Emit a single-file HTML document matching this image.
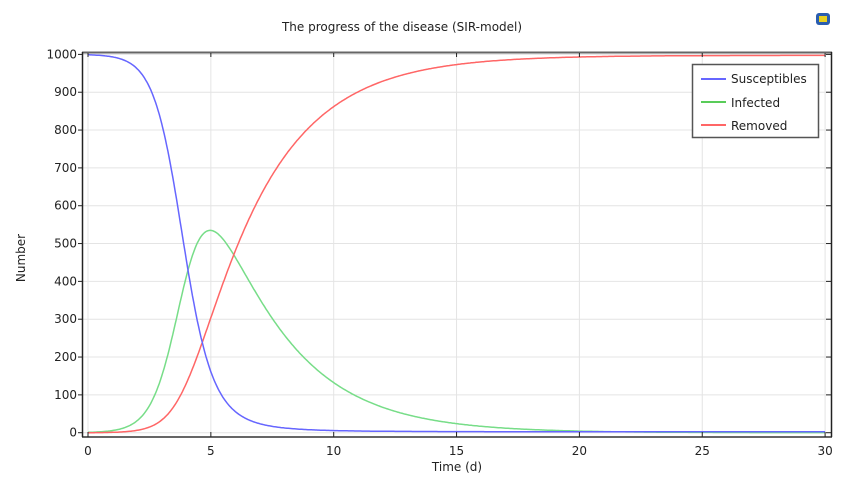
<!DOCTYPE html>
<html><head><meta charset="utf-8"><style>
html,body{margin:0;padding:0;background:#fff;width:862px;height:477px;overflow:hidden}
svg text{font-family:"DejaVu Sans","Liberation Sans",sans-serif;font-size:12px;fill:#222}
</style></head><body>
<svg id="s" width="862" height="477" xmlns="http://www.w3.org/2000/svg">
<text x="402" y="31" text-anchor="middle">The progress of the disease (SIR-model)</text>
<g id="grid" stroke="#e4e4e4" stroke-width="1"></g>
<g id="curves" fill="none" stroke-width="1.5"></g>
<line x1="82" y1="52.5" x2="832" y2="52.5" stroke="#666" stroke-width="2"/>
<line x1="82" y1="437" x2="832" y2="437" stroke="#666" stroke-width="2"/>
<line x1="82.5" y1="52" x2="82.5" y2="437" stroke="#222" stroke-width="1.5"/>
<line x1="831.5" y1="52" x2="831.5" y2="437" stroke="#222" stroke-width="1.5"/>
<g id="ticks" stroke="#222" stroke-width="1"></g>
<g id="labels"></g>
<text x="457" y="471" text-anchor="middle">Time (d)</text>
<text transform="translate(25,258) rotate(-90)" text-anchor="middle">Number</text>
<rect x="692.5" y="64.5" width="126" height="73" fill="#fff" stroke="#555" stroke-width="1.5"/>
<line x1="701" y1="79" x2="726" y2="79" stroke="#3333ff" stroke-width="1.5"/>
<line x1="701" y1="102" x2="726" y2="102" stroke="#22bb22" stroke-width="1.5"/>
<line x1="701" y1="125" x2="726" y2="125" stroke="#ff3333" stroke-width="1.5"/>
<text x="731" y="83">Susceptibles</text>
<text x="731" y="107">Infected</text>
<text x="731" y="130">Removed</text>
<rect x="816" y="13" width="14" height="12" rx="3" fill="#2a5db0"/>
<rect x="819" y="16" width="8" height="6" fill="#e8d020"/>
</svg>
<script>
var X=function(t){return 88+t*24.57},Y=function(v){return 432.7-v*0.3783};
var ns="http://www.w3.org/2000/svg",g=document.getElementById('grid'),tk=document.getElementById('ticks'),lb=document.getElementById('labels');
function el(p,n,a,txt){var e=document.createElementNS(ns,n);for(var k in a)e.setAttribute(k,a[k]);if(txt!=null)e.textContent=txt;p.appendChild(e);return e}
for(var v=0;v<=1000;v+=100){var y=Y(v);el(g,'line',{x1:83,x2:831,y1:y,y2:y});el(tk,'line',{x1:78,x2:83,y1:y,y2:y});el(tk,'line',{x1:826,x2:831,y1:y,y2:y});el(lb,'text',{x:77,y:y+4,'text-anchor':'end'},v)}
for(var t=0;t<=30;t+=5){var x=X(t);el(g,'line',{x1:x,x2:x,y1:53,y2:436});el(tk,'line',{x1:x,x2:x,y1:432,y2:437});el(tk,'line',{x1:x,x2:x,y1:53,y2:57});el(lb,'text',{x:x,y:455,'text-anchor':'middle'},t)}
var b=2.1/1000,gm=0.35,S=999,I=1,R=0,h=0.01,ps=[],pi=[],pr=[];
function f(s,i){return [-b*s*i,b*s*i-gm*i,gm*i]}
for(var n=0;n<=3000;n++){var t=n*h;if(n%5==0){ps.push(X(t).toFixed(1)+','+Y(S).toFixed(1));pi.push(X(t).toFixed(1)+','+Y(I).toFixed(1));pr.push(X(t).toFixed(1)+','+Y(R).toFixed(1));}
var k1=f(S,I),k2=f(S+h/2*k1[0],I+h/2*k1[1]),k3=f(S+h/2*k2[0],I+h/2*k2[1]),k4=f(S+h*k3[0],I+h*k3[1]);
S+=h/6*(k1[0]+2*k2[0]+2*k3[0]+k4[0]);I+=h/6*(k1[1]+2*k2[1]+2*k3[1]+k4[1]);R+=h/6*(k1[2]+2*k2[2]+2*k3[2]+k4[2]);}
var c=document.getElementById('curves');
el(c,'polyline',{points:pi.join(' '),stroke:'#77dd88'});
el(c,'polyline',{points:pr.join(' '),stroke:'#ff6666'});
el(c,'polyline',{points:ps.join(' '),stroke:'#6666ff'});
</script>
</body></html>
